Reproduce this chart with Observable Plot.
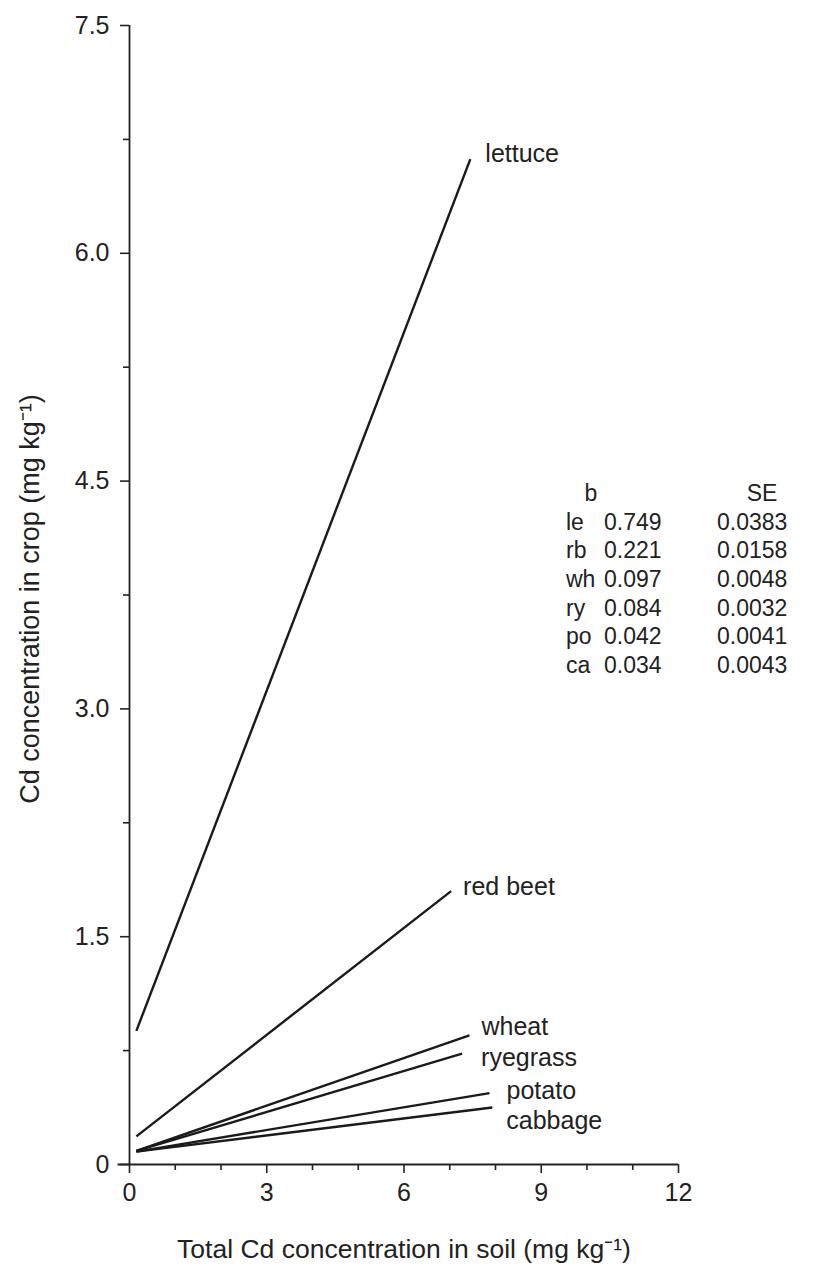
<!DOCTYPE html>
<html><head><meta charset="utf-8">
<script src="https://cdn.jsdelivr.net/npm/d3@7"></script>
<script src="https://cdn.jsdelivr.net/npm/@observablehq/plot@0.6"></script>
<style>
body{margin:0;background:#fff;}
#wrap{position:relative;width:814px;height:1266px;font-family:"Liberation Sans",Arial,sans-serif;color:#222;}
#wrap svg{position:absolute;left:0;top:0;}
.tb{position:absolute;font-size:23px;line-height:23px;white-space:nowrap;}
</style></head><body><div id="wrap"></div>
<script>
const crops = ["lettuce","red beet","wheat","ryegrass","potato","cabbage"];
const soilStart = [0.15,0.15,0.15,0.15,0.15,0.15];
const cropStart = [0.88,0.185,0.09,0.09,0.085,0.085];
const soilEnd = [7.45,7.03,7.43,7.27,7.87,7.93];
const cropEnd = [6.62,1.80,0.85,0.73,0.47,0.375];
const tableCodes = ["le","rb","wh","ry","po","ca"];
const bValues = ["0.749","0.221","0.097","0.084","0.042","0.034"];
const seValues = ["0.0383","0.0158","0.0048","0.0032","0.0041","0.0043"];
const tableHeaders = ["b","SE"];
const xTicks = [0,3,6,9,12];
const xMinorTicks = [1,2,4,5,7,8,10,11];
const yTicks = [0,1.5,3,4.5,6,7.5];
const yTickLabels = ["0","1.5","3.0","4.5","6.0","7.5"];
const yMinorTicks = [0.75,2.25,3.75,5.25,6.75];
const xTitle = "Total Cd concentration in soil (mg kg\u207B\u00B9)";
const yTitle = "Cd concentration in crop (mg kg\u207B\u00B9)";

// label offsets (px) relative to line end
const labelDx = [15,12,12,19,17,14];
const labelDy = [-5,-4,-8,4,-2,13];

const segs = crops.map((c,i)=>({crop:c, x1:soilStart[i], y1:cropStart[i], x2:soilEnd[i], y2:cropEnd[i]}));
const ink = "#222";
const font = '"Liberation Sans",Arial,sans-serif';

const chart = Plot.plot({
  width:814, height:1266,
  marginLeft:129, marginRight:136, marginTop:25, marginBottom:102,
  style:{fontFamily:font, fontSize:"25px", color:ink, background:"transparent", overflow:"visible"},
  x:{domain:[0,12]},
  y:{domain:[0,7.5]},
  marks:[
    Plot.axisX({ticks:xTicks, tickSize:9, tickPadding:10, fontSize:25, tickFormat:d=>String(d),
      label:null, strokeWidth:1.6}),
    Plot.axisX({ticks:xMinorTicks, tickSize:6, text:null, label:null, strokeWidth:1.6}),
    Plot.axisY({ticks:yTicks, tickSize:9, tickPadding:11, fontSize:25,
      tickFormat:d=>yTickLabels[yTicks.indexOf(d)], label:null, strokeWidth:1.6}),
    Plot.axisY({ticks:yMinorTicks, tickSize:6, text:null, label:null, strokeWidth:1.6}),
    Plot.text([xTitle], {frameAnchor:"bottom", textAnchor:"middle", dy:93, fontSize:26.5, fill:ink}),
    Plot.text([yTitle], {frameAnchor:"left", textAnchor:"middle", dx:-99, dy:4, rotate:-90, fontSize:27, fill:ink}),
    Plot.ruleX([0], {stroke:ink, strokeWidth:1.8}),
    Plot.ruleY([0], {x1:-0.25, x2:12, stroke:ink, strokeWidth:1.8}),
    Plot.link(segs, {x1:"x1", y1:"y1", x2:"x2", y2:"y2", stroke:"#1a1a1a", strokeWidth:2.4}),
    ...segs.map((s,i)=>Plot.text([s], {x:"x2", y:"y2", text:"crop", textAnchor:"start",
      dx:labelDx[i], dy:labelDy[i], fontSize:25, fill:ink}))
  ]
});
const wrap = document.getElementById("wrap");
wrap.appendChild(chart);

// coefficient table (annotation)
function addText(t, left, top, anchorCenter){
  const d = document.createElement("div");
  d.className = "tb";
  d.textContent = t;
  d.style.top = (top - 11.5) + "px";
  d.style.left = left + "px";
  if (anchorCenter) d.style.transform = "translateX(-50%)";
  wrap.appendChild(d);
}
addText(tableHeaders[0], 591, 493, true);
addText(tableHeaders[1], 762, 493, true);
tableCodes.forEach((c,i)=>{
  const top = 522 + i*28.7;
  addText(c, 566, top);
  addText(bValues[i], 604, top);
  addText(seValues[i], 717, top);
});
</script>
</body></html>
